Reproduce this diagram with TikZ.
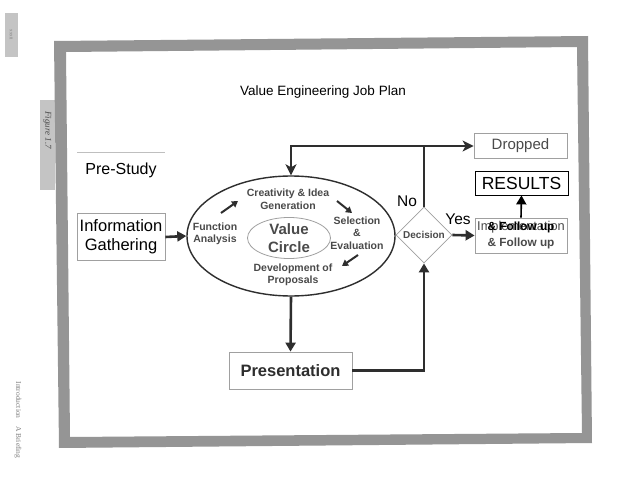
\documentclass[tikz,border=0pt]{standalone}
\usepackage{fontspec}
\setmainfont{Liberation Sans}
\newfontfamily\serifpage{Liberation Serif}
\usetikzlibrary{arrows.meta,shapes.geometric,calc}
\definecolor{framegray}{HTML}{959595}
\definecolor{tabgray}{HTML}{C4C4C4}
\definecolor{ink}{HTML}{2E2E2E}
\definecolor{txtgray}{HTML}{4A4A4A}
\definecolor{boxline}{HTML}{A0A0A0}
\tikzset{
  Stl/.tip={Stealth[length=11pt,width=11pt,inset=3pt]},
  fs/.style={font=\fontsize{#1}{20}\selectfont},
  bx/.style={draw=boxline, line width=0.8pt, rectangle, inner sep=0pt, align=center},
  conn/.style={draw=ink, line width=2.6pt, line join=miter},
  arr/.style={-{Triangle[length=9pt,width=10pt]}},
  smallarr/.style={draw=ink, line width=2pt, -{Triangle[length=6pt,width=7pt]}},
  circtxt/.style={text=txtgray, align=center, font=\bfseries\fontsize{10.5}{12.5}\selectfont},
}
\begin{document}
\begin{tikzpicture}[x=1pt,y=-1pt]
\useasboundingbox (0,0) rectangle (638,495);
\fill[white] (0,0) rectangle (638,495);
% page tabs and marginal text
\fill[tabgray] (5,13) rectangle (18,57);
\node[rotate=-90, text=gray, font=\serifpage\fontsize{5}{6}\selectfont] (pg) at (11.5,35) {xxxii};
\fill[tabgray] (40,100) rectangle (55,190);
\node[rotate=-90, text=txtgray, font=\serifpage\itshape\fontsize{9}{10}\selectfont] (fig) at (47.5,130) {Figure 1.7};
\node[rotate=-90, text=gray, font=\serifpage\fontsize{7.5}{9}\selectfont] (intro) at (18,420) {Introduction\quad A Briefing};
% frame
\fill[framegray, even odd rule] (54,41) -- (588,36) -- (592,443) -- (59,448) -- cycle
  (66,52) -- (577,47) -- (582,433) -- (70,437) -- cycle;
% title
\node[fs=13.5] (title) at (323,92) {Value Engineering Job Plan};
% pre-study
\draw[lightgray, line width=0.5pt] (77,152) -- (165,152);
\node[fs=16] (pre) at (121,170) {Pre-Study};
\node[bx, minimum width=88pt, minimum height=47pt, font=\fontsize{16.5}{19}\selectfont] (info) at (121,237) {Information\\Gathering};
% value circle
\node[draw=ink, line width=1.4pt, ellipse, minimum width=208pt, minimum height=120pt] (vc) at (291,236) {};
\node[draw=boxline, line width=0.8pt, ellipse, minimum width=83pt, minimum height=40pt, inner sep=0pt, text=txtgray, align=center, font=\bfseries\fontsize{15}{18}\selectfont] (vcin) at (289,238) {Value\\Circle};
\node[circtxt] (cre) at (288,199) {Creativity \& Idea\\Generation};
\node[circtxt] (fun) at (215,234) {Function\\Analysis};
\node[circtxt] (sel) at (357,233) {Selection\\\&\\Evaluation};
\node[circtxt] (dev) at (293,275) {Development of\\Proposals};
\coordinate (a1s) at (221,213); \coordinate (a1e) at (238,201);
\coordinate (a2s) at (337,201); \coordinate (a2e) at (352,213);
\coordinate (a3s) at (358,255); \coordinate (a3e) at (342,266);
\draw[smallarr] (a1s) -- (a1e);
\draw[smallarr] (a2s) -- (a2e);
\draw[smallarr] (a3s) -- (a3e);
% right side
\node[bx, minimum width=93pt, minimum height=25pt, text=txtgray, font=\fontsize{15}{17}\selectfont] (drop) at (520.5,146) {Dropped};
\node[draw=black, line width=0.8pt, rectangle, minimum width=93pt, minimum height=24pt, inner sep=0pt, font=\fontsize{17.5}{20}\selectfont] (res) at (521.5,183) {RESULTS};
\node[draw=boxline, line width=0.8pt, diamond, minimum width=56pt, minimum height=56pt, inner sep=0pt, text=txtgray, font=\bfseries\fontsize{10}{12}\selectfont] (dec) at (424,235) {Decision};
\node[bx, minimum width=92pt, minimum height=35pt] (impl) at (521,235.5) {};
\node[text=txtgray, font=\fontsize{12.8}{15}\selectfont] (implA) at (521,227) {Implementation};
\node[text=black, font=\bfseries\fontsize{11.8}{14}\selectfont] (implB) at (521,227) {\& Follow up};
\node[text=txtgray, font=\bfseries\fontsize{11.8}{14}\selectfont] (implC) at (521,243) {\& Follow up};
\node[fs=15.5] (no) at (407,201) {No};
\node[fs=15.5] (yes) at (458,219) {Yes};
\node[bx, minimum width=123pt, minimum height=37pt, text=ink, font=\bfseries\fontsize{16.5}{19}\selectfont] (pres) at (290.5,370.5) {Presentation};
% connectors
\draw[conn, arr] (info.east) -- (vc.west);
\draw[conn, arr] (vc.south) -- (pres.north);
\draw[conn, arr] (pres.east) -| (dec.south);
\draw[conn, arr] (dec.east) -- (impl.west);
\draw[conn] (dec.north) -- (dec.north |- drop.west);
\draw[conn, {Stl}-{Stl}] (vc.north) |- (drop.west);
\draw[draw=black, line width=1.6pt, -{Triangle[length=9pt,width=10pt]}] (impl.north) -- (res.south);
\end{tikzpicture}
\end{document}
